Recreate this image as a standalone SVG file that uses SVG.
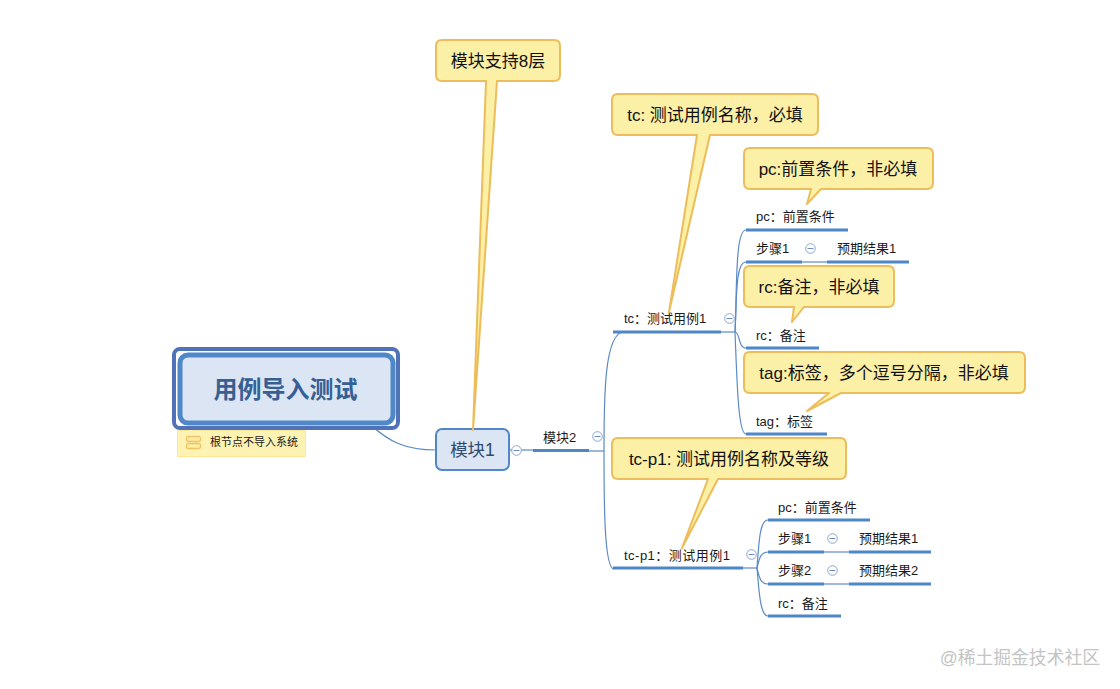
<svg xmlns="http://www.w3.org/2000/svg" width="1120" height="689" viewBox="0 0 1120 689">
<style>
text{font-family:"Liberation Sans","Noto Sans CJK SC",sans-serif;fill:#1a1a1a}
.t{font-size:13px}
.c{font-size:17px;fill:#111}
.l{fill:none;stroke:#5b8ac6;stroke-width:1.2}
.b{fill:none;stroke:#4f86c6;stroke-width:3}
.k{fill:#fcefa6;stroke:#ecbd5a;stroke-width:2;stroke-linejoin:round}
.m{fill:#fff;stroke:#8ba6d2;stroke-width:1}
.d{stroke:#6f8fc4;stroke-width:1}
</style>
<defs>
<g id="toggle"><circle class="m" r="4.8"/><line class="d" x1="-3" x2="3" y1="0" y2="0"/></g>
</defs>
<rect width="1120" height="689" fill="#fff"/>
<g id="connectors">
<path class="l" d="M371 425C388 441 405 450 436 450"/>
<path class="l" d="M510 450H533"/>
<path class="l" d="M589 451H604"/>
<path class="l" d="M604 451C604 400 604 332 624 332"/>
<path class="l" d="M604 451C604 500 604 569 614 569"/>
<path class="l" d="M721 332H735"/>
<path class="l" d="M735 332C737 290 735 230 746 230"/>
<path class="l" d="M735 332C737 300 735 262 746 262"/>
<path class="l" d="M735 332C740 332 738 348 746 348"/>
<path class="l" d="M735 332C737 380 738 434 746 434"/>
<path class="l" d="M802 262H827"/>
<path class="l" d="M743 568H757"/>
<path class="l" d="M757 568C759 540 760 520 768 520"/>
<path class="l" d="M757 568C759 560 760 552 768 552"/>
<path class="l" d="M757 568C759 576 760 584 768 584"/>
<path class="l" d="M757 568C759 590 760 616 768 616"/>
<path class="l" d="M824 552H849"/>
<path class="l" d="M824 584H849"/>
</g>
<g id="root">
<rect x="174" y="349" width="224" height="79" rx="6" fill="#fff" stroke="#4f72b8" stroke-width="4"/>
<rect x="180" y="355" width="213" height="68" rx="8" fill="#dbe5f3" stroke="#5087c7" stroke-width="5"/>
<text x="285.500" y="398" text-anchor="middle" font-size="24" font-weight="700" style="fill:#365f94">用例导入测试</text>
</g>
<g id="root-note">
<rect x="177.500" y="430.500" width="128" height="26" fill="#fff3b3" stroke="#fbe796"/>
<rect x="186.500" y="436.500" width="14" height="5" rx="2" fill="#fdeea0" stroke="#efc468" stroke-width="1.300"/>
<rect x="186.500" y="443.500" width="14" height="5" rx="2" fill="#fdeea0" stroke="#efc468" stroke-width="1.300"/>
<text x="210" y="446" font-size="11">根节点不导入系统</text>
</g>
<g id="module1">
<rect x="436" y="429" width="73" height="41" rx="6" fill="#dbe5f3" stroke="#5087c7" stroke-width="2"/>
<text x="472.500" y="456" text-anchor="middle" font-size="17.500" style="fill:#2f4a6e">模块1</text>
<use href="#toggle" x="516.500" y="450.500"/>
</g>
<g id="module2">
<text x="543" y="442" class="t">模块2</text>
<path class="b" d="M533 450.500H589"/>
<use href="#toggle" x="597.500" y="436.500"/>
</g>
<g id="tc">
<text x="624" y="323" class="t">tc：测试用例1</text>
<path class="b" d="M613 332H721"/>
<use href="#toggle" x="729.500" y="318.500"/>
</g>
<g id="tc-pc">
<text x="756" y="221" class="t">pc：前置条件</text>
<path class="b" d="M746 230H848"/>
</g>
<g id="tc-step1">
<text x="756" y="253" class="t">步骤1</text>
<path class="b" d="M746 262H802"/>
<use href="#toggle" x="810.500" y="248.500"/>
</g>
<g id="tc-result1">
<text x="837" y="253" class="t">预期结果1</text>
<path class="b" d="M827 262H909"/>
</g>
<g id="tc-rc">
<text x="756" y="340" class="t">rc：备注</text>
<path class="b" d="M746 348H819"/>
</g>
<g id="tc-tag">
<text x="756" y="426" class="t">tag：标签</text>
<path class="b" d="M746 434H827"/>
</g>
<g id="tcp1">
<text x="624" y="560" class="t" textLength="106">tc-p1：测试用例1</text>
<path class="b" d="M613 568H743"/>
<use href="#toggle" x="751.500" y="554.500"/>
</g>
<g id="tcp1-pc">
<text x="778" y="512" class="t">pc：前置条件</text>
<path class="b" d="M768 520H870"/>
</g>
<g id="tcp1-step1">
<text x="778" y="543" class="t">步骤1</text>
<path class="b" d="M768 552H824"/>
<use href="#toggle" x="832.500" y="538.500"/>
</g>
<g id="tcp1-result1">
<text x="859" y="543" class="t">预期结果1</text>
<path class="b" d="M849 552H931"/>
</g>
<g id="tcp1-step2">
<text x="778" y="575" class="t">步骤2</text>
<path class="b" d="M768 584H824"/>
<use href="#toggle" x="832.500" y="570.500"/>
</g>
<g id="tcp1-result2">
<text x="859" y="575" class="t">预期结果2</text>
<path class="b" d="M849 584H931"/>
</g>
<g id="tcp1-rc">
<text x="778" y="608" class="t">rc：备注</text>
<path class="b" d="M768 616H841"/>
</g>
<g id="callout-module">
<path class="k" d="M442 40H554Q560 40 560 46V75Q560 81 554 81H497L473 430L486 81H442Q436 81 436 75V46Q436 40 442 40Z"/>
<text x="498" y="67" text-anchor="middle" class="c">模块支持8层</text>
</g>
<g id="callout-tc">
<path class="k" d="M618 94H812Q818 94 818 100V129Q818 135 812 135H710L669 312L697 135H618Q612 135 612 129V100Q612 94 618 94Z"/>
<text x="715" y="121" text-anchor="middle" class="c">tc: 测试用例名称，必填</text>
</g>
<g id="callout-pc">
<path class="k" d="M750 148H927Q933 148 933 154V183Q933 189 927 189H821L807 204L811 189H750Q744 189 744 183V154Q744 148 750 148Z"/>
<text x="838" y="175" text-anchor="middle" class="c">pc:前置条件，非必填</text>
</g>
<g id="callout-rc">
<path class="k" d="M750 266H888Q894 266 894 272V301Q894 307 888 307H804L792 322L794 307H750Q744 307 744 301V272Q744 266 750 266Z"/>
<text x="819" y="293" text-anchor="middle" class="c">rc:备注，非必填</text>
</g>
<g id="callout-tag">
<path class="k" d="M750 352H1019Q1025 352 1025 358V387Q1025 393 1019 393H841L807 411L829 393H750Q744 393 744 387V358Q744 352 750 352Z"/>
<text x="884" y="379" text-anchor="middle" class="c">tag:标签，多个逗号分隔，非必填</text>
</g>
<g id="callout-tcp1">
<path class="k" d="M618 438H840Q846 438 846 444V473Q846 479 840 479H718L682 548L708 479H618Q612 479 612 473V444Q612 438 618 438Z"/>
<text x="729" y="465" text-anchor="middle" class="c">tc-p1: 测试用例名称及等级</text>
</g>
<text x="1100" y="664" text-anchor="end" font-size="17.800" style="fill:#c4c4c4">@稀土掘金技术社区</text>
</svg>
